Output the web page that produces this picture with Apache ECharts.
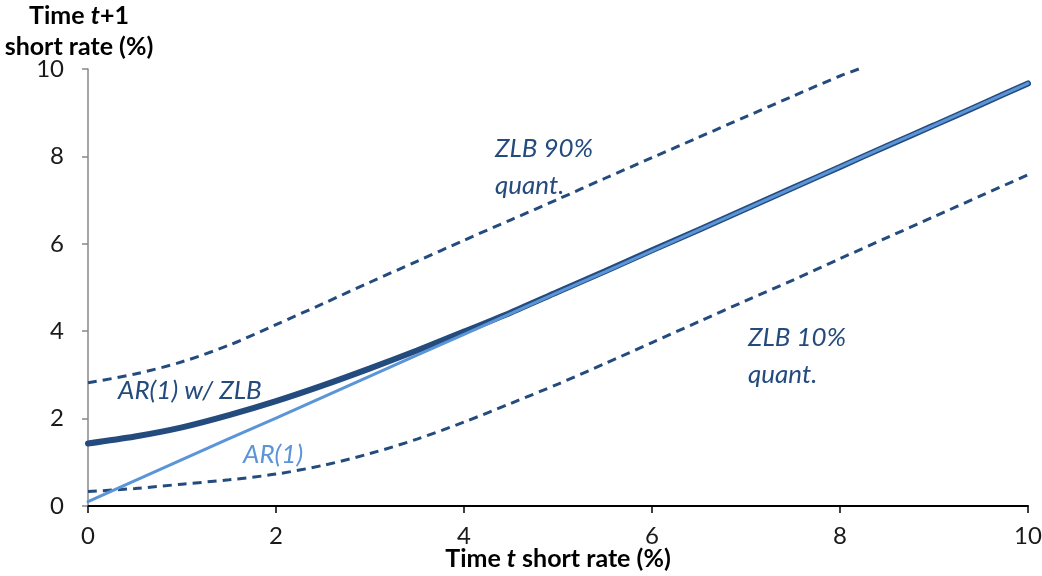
<!DOCTYPE html>
<html>
<head>
<meta charset="utf-8">
<script src="https://cdn.jsdelivr.net/npm/echarts@6/dist/echarts.min.js"></script>
<style>
  html, body { margin: 0; padding: 0; background: #fff; }
  #chart { width: 1042px; height: 576px; }
</style>
</head>
<body>
<div id="chart"></div>
<script>
// x grid shared by the AR(1), AR(1) w/ ZLB and 10% quantile lines
const xRate = [0, 0.5, 1, 1.5, 2, 2.5, 3, 3.5, 4, 4.5, 5, 5.5, 6, 6.5, 7, 7.5, 8, 8.5, 9, 9.5, 10]
const ar1 = [0.10, 0.58, 1.06, 1.54, 2.01, 2.49, 2.97, 3.45, 3.93, 4.41, 4.89, 5.36, 5.84, 6.32, 6.80, 7.28, 7.76, 8.24, 8.71, 9.19, 9.67]
const ar1Zlb = [1.43, 1.59, 1.80, 2.08, 2.40, 2.76, 3.15, 3.56, 3.99, 4.43, 4.90, 5.37, 5.85, 6.32, 6.80, 7.28, 7.76, 8.24, 8.71, 9.19, 9.67]
const q10 = [0.33, 0.40, 0.50, 0.60, 0.73, 0.93, 1.20, 1.53, 1.92, 2.35, 2.79, 3.26, 3.74, 4.22, 4.70, 5.17, 5.66, 6.14, 6.62, 7.10, 7.58]

// 90% quantile runs off the top of the plot at about x = 8.2
const xQ90 = [0, 0.5, 1, 1.5, 2, 2.5, 3, 3.5, 4, 4.5, 5, 5.5, 6, 6.5, 7, 7.5, 8, 8.2]
const q90 = [2.82, 3.02, 3.30, 3.68, 4.15, 4.63, 5.12, 5.60, 6.08, 6.55, 7.02, 7.50, 7.97, 8.44, 8.91, 9.38, 9.84, 10.0]

const xTicks = [0, 2, 4, 6, 8, 10]
const yTicks = [0, 2, 4, 6, 8, 10]

const DARK = '#244b7d'
const LIGHT = '#5b95d8'
const FONT = 'Lato, "Open Sans", sans-serif'

const zip = (xs, ys) => xs.map((x, i) => [x, ys[i]])

const chart = echarts.init(document.getElementById('chart'))

chart.setOption({
  animation: false,
  grid: { left: 88, right: 14, top: 69, bottom: 70, outerBoundsMode: 'none', containLabel: false },
  xAxis: {
    type: 'value',
    min: xTicks[0],
    max: xTicks[xTicks.length - 1],
    interval: 2,
    name: '{b|Time }{i|t}{b| short rate (%)}',
    nameLocation: 'middle',
    nameGap: 40,
    nameMoveOverlap: false,
    nameTextStyle: {
      rich: {
        b: { fontFamily: FONT, fontSize: 25, fontWeight: 'bold', color: '#000' },
        i: { fontFamily: FONT, fontSize: 25, fontWeight: 'bold', fontStyle: 'italic', color: '#000' },
      },
    },
    axisLine: { onZero: false, lineStyle: { color: '#000', width: 2 } },
    axisTick: { show: true, inside: false, length: 7, lineStyle: { color: '#000', width: 1.5 } },
    axisLabel: { margin: 18, fontFamily: FONT, fontSize: 24, color: '#1a1a1a' },
    splitLine: { show: false },
  },
  yAxis: {
    type: 'value',
    min: yTicks[0],
    max: yTicks[yTicks.length - 1],
    interval: 2,
    axisLine: { show: true, lineStyle: { color: '#888', width: 1.5 } },
    axisTick: { show: true, inside: false, length: 6, lineStyle: { color: '#888', width: 1.5 } },
    axisLabel: { margin: 24, fontFamily: FONT, fontSize: 24, color: '#1a1a1a' },
    splitLine: { show: false },
  },
  graphic: [
    {
      type: 'text', x: 79, y: 31,
      style: {
        text: '{b|Time }{i|t}{b|+1}\n{b|short rate (%)}',
        textAlign: 'center', textVerticalAlign: 'middle',
        rich: {
          b: { fontFamily: FONT, fontSize: 25, fontWeight: 'bold', fill: '#000', lineHeight: 31 },
          i: { fontFamily: FONT, fontSize: 25, fontWeight: 'bold', fontStyle: 'italic', fill: '#000', lineHeight: 31 },
        },
      },
    },
    {
      type: 'text', x: 118, y: 391,
      style: { text: 'AR(1) w/ ZLB', font: 'italic 26px ' + FONT, fill: DARK, textVerticalAlign: 'middle' },
    },
    {
      type: 'text', x: 243, y: 455,
      style: { text: 'AR(1)', font: 'italic 26px ' + FONT, fill: LIGHT, textVerticalAlign: 'middle' },
    },
    {
      type: 'text', x: 495, y: 130,
      style: { text: 'ZLB 90%\nquant.', font: 'italic 26px ' + FONT, fill: DARK, lineHeight: 37, textVerticalAlign: 'top' },
    },
    {
      type: 'text', x: 748, y: 319,
      style: { text: 'ZLB 10%\nquant.', font: 'italic 26px ' + FONT, fill: DARK, lineHeight: 37, textVerticalAlign: 'top' },
    },
  ],
  series: [
    {
      name: 'ZLB 90% quant.', type: 'line', data: zip(xQ90, q90), smooth: 0.3,
      showSymbol: false, clip: false,
      lineStyle: { color: DARK, width: 3, type: [9, 6] },
    },
    {
      name: 'ZLB 10% quant.', type: 'line', data: zip(xRate, q10), smooth: 0.3,
      showSymbol: false,
      lineStyle: { color: DARK, width: 3, type: [9, 6] },
    },
    {
      name: 'AR(1) w/ ZLB', type: 'line', data: zip(xRate, ar1Zlb), smooth: 0.3,
      showSymbol: false,
      lineStyle: { color: DARK, width: 6, cap: 'round' },
    },
    {
      name: 'AR(1)', type: 'line', data: zip(xRate, ar1),
      showSymbol: false, z: 3,
      lineStyle: { color: LIGHT, width: 3, cap: 'round' },
    },
  ],
})
</script>
</body>
</html>
